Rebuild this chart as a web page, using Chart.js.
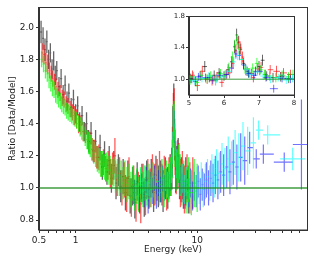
<!DOCTYPE html>
<html>
<head>
<meta charset="utf-8">
<script src="https://cdn.jsdelivr.net/npm/chart.js@4"></script>
<style>
  body { margin: 0; background: #fff; }
  #wrap { position: relative; width: 314px; height: 262px; }
  #inset { position: absolute; left: 164px; top: 10px; }
</style>
</head>
<body>
<div id="wrap">
  <canvas id="myChart" width="314" height="262"></canvas>
  <canvas id="inset" width="134" height="100"></canvas>
</div>
<script>
// axis ticks
var xTicks = [0.5, 0.6, 0.7, 0.8, 0.9, 1, 2, 3, 4, 5, 6, 7, 8, 9, 10, 20, 30, 40, 50, 60, 70];
var xMajor = [0.5, 1, 10];
var xMajorLabels = ['0.5', '1', '10'];
var yTicks = [0.8, 1.0, 1.2, 1.4, 1.6, 1.8, 2.0];
var insetXTicks = [5, 6, 7, 8];
var insetYTicks = [1.0, 1.4, 1.8];

// model line
var unityE = [0.5, 80];
var unityR = [1, 1];

// black spectrum
var blackE = [0.52, 0.54, 0.56, 0.58, 0.60, 0.62, 0.64, 0.66, 0.68, 0.70,
  0.73, 0.76, 0.79, 0.82, 0.85, 0.88, 0.92, 0.96, 1.00, 1.04,
  1.08, 1.13, 1.18, 1.23, 1.28, 1.34, 1.40, 1.46, 1.52, 1.59,
  1.66, 1.73, 1.81, 1.89, 1.97, 2.06, 2.15, 2.25, 2.35, 2.46,
  2.57, 2.69, 2.81, 2.94, 3.07, 3.21, 3.36, 3.51, 3.67, 3.84,
  4.01, 4.19, 4.38, 4.58, 4.79, 5.01, 5.24, 5.48, 5.73, 5.99,
  6.20, 6.32, 6.42, 6.52, 6.65, 6.80, 6.98, 7.16, 7.40, 7.70,
  8.05, 8.45];
var blackR = [1.97, 1.93, 1.86, 1.91, 1.80, 1.84, 1.74, 1.79, 1.70, 1.73,
  1.63, 1.68, 1.58, 1.64, 1.54, 1.59, 1.50, 1.55, 1.46, 1.51,
  1.41, 1.45, 1.35, 1.40, 1.29, 1.34, 1.23, 1.29, 1.19, 1.25,
  1.13, 1.21, 1.10, 1.17, 1.06, 1.14, 1.03, 1.11, 1.01, 1.07,
  0.97, 1.06, 0.95, 1.01, 0.93, 1.04, 0.96, 1.03, 0.94, 1.05,
  0.99, 1.06, 0.97, 1.08, 1.01, 1.04, 0.98, 1.06, 1.00, 1.08,
  1.12, 1.38, 1.52, 1.30, 1.10, 1.13, 1.18, 1.07, 1.05, 1.01,
  1.04, 0.99];
var blackErr = [0.07, 0.07, 0.07, 0.07, 0.06, 0.06, 0.06, 0.06, 0.06, 0.06,
  0.06, 0.06, 0.06, 0.06, 0.06, 0.06, 0.06, 0.06, 0.06, 0.06,
  0.06, 0.06, 0.06, 0.07, 0.07, 0.07, 0.07, 0.07, 0.07, 0.08,
  0.08, 0.08, 0.08, 0.09, 0.09, 0.09, 0.10, 0.10, 0.10, 0.11,
  0.11, 0.11, 0.11, 0.12, 0.12, 0.12, 0.12, 0.12, 0.12, 0.12,
  0.12, 0.12, 0.12, 0.12, 0.13, 0.13, 0.13, 0.13, 0.13, 0.13,
  0.13, 0.13, 0.13, 0.13, 0.13, 0.13, 0.13, 0.14, 0.14, 0.14,
  0.15, 0.15];

// red spectrum
var redE = [0.53, 0.55, 0.57, 0.59, 0.61, 0.63, 0.65, 0.67, 0.69, 0.715,
  0.745, 0.775, 0.805, 0.835, 0.865, 0.90, 0.94, 0.98, 1.02, 1.06,
  1.105, 1.155, 1.205, 1.255, 1.31, 1.37, 1.43, 1.49, 1.555, 1.625,
  1.695, 1.77, 1.85, 1.93, 2.015, 2.105, 2.20, 2.30, 2.405, 2.515,
  2.63, 2.75, 2.875, 3.005, 3.14, 3.285, 3.435, 3.59, 3.755, 3.925,
  4.10, 4.285, 4.48, 4.685, 4.90, 5.125, 5.36, 5.605, 5.86, 6.10,
  6.26, 6.37, 6.47, 6.58, 6.72, 6.89, 7.07, 7.28, 7.55, 7.85,
  8.25, 8.70, 9.20];
var redR = [1.84, 1.83, 1.78, 1.77, 1.73, 1.71, 1.68, 1.66, 1.63, 1.61,
  1.59, 1.56, 1.55, 1.52, 1.51, 1.49, 1.47, 1.45, 1.43, 1.40,
  1.39, 1.35, 1.34, 1.30, 1.28, 1.24, 1.23, 1.19, 1.19, 1.15,
  1.16, 1.12, 1.14, 1.09, 1.12, 1.20, 1.05, 1.09, 1.00, 1.05,
  0.96, 1.07, 0.94, 1.02, 0.91, 0.98, 0.90, 1.03, 0.95, 1.06,
  1.00, 1.09, 1.02, 1.05, 1.10, 1.02, 1.07, 0.99, 1.06, 1.08,
  1.25, 1.45, 1.48, 1.22, 1.10, 1.16, 1.14, 1.03, 1.08, 0.99,
  1.06, 1.00, 1.03];
var redErr = [0.06, 0.06, 0.06, 0.06, 0.05, 0.05, 0.05, 0.05, 0.05, 0.05,
  0.05, 0.05, 0.05, 0.05, 0.05, 0.05, 0.05, 0.06, 0.06, 0.06,
  0.06, 0.06, 0.06, 0.06, 0.07, 0.07, 0.07, 0.07, 0.08, 0.08,
  0.08, 0.08, 0.09, 0.09, 0.10, 0.11, 0.10, 0.10, 0.11, 0.11,
  0.11, 0.12, 0.12, 0.12, 0.12, 0.12, 0.12, 0.12, 0.12, 0.12,
  0.12, 0.12, 0.13, 0.13, 0.13, 0.13, 0.13, 0.13, 0.13, 0.13,
  0.13, 0.14, 0.14, 0.14, 0.14, 0.14, 0.14, 0.15, 0.15, 0.15,
  0.15, 0.16, 0.16];

// green spectrum
var greenE = [0.525, 0.545, 0.565, 0.585, 0.605, 0.625, 0.645, 0.665, 0.685, 0.705,
  0.725, 0.75, 0.77, 0.795, 0.82, 0.845, 0.87, 0.90, 0.93, 0.96,
  0.99, 1.02, 1.055, 1.09, 1.125, 1.16, 1.20, 1.24, 1.28, 1.32,
  1.36, 1.41, 1.46, 1.51, 1.56, 1.61, 1.67, 1.73, 1.79, 1.85,
  1.92, 1.99, 2.06, 2.13, 2.21, 2.29, 2.37, 2.46, 2.55, 2.65,
  2.75, 2.85, 2.96, 3.07, 3.19, 3.31, 3.44, 3.58, 3.72, 3.87,
  4.02, 4.18, 4.35, 4.53, 4.72, 4.92, 5.13, 5.35, 5.58, 5.82,
  6.05, 6.23, 6.35, 6.45, 6.56, 6.70, 6.86, 7.03, 7.22, 7.45,
  7.75, 8.10, 8.50, 8.95, 9.45, 10.0];
var greenR = [1.80, 1.77, 1.73, 1.71, 1.67, 1.65, 1.62, 1.61, 1.58, 1.57,
  1.55, 1.54, 1.52, 1.51, 1.50, 1.48, 1.47, 1.46, 1.45, 1.44,
  1.43, 1.42, 1.40, 1.38, 1.36, 1.35, 1.32, 1.30, 1.28, 1.26,
  1.24, 1.22, 1.20, 1.18, 1.17, 1.15, 1.15, 1.13, 1.13, 1.11,
  1.11, 1.09, 1.10, 1.07, 1.08, 1.05, 1.07, 1.03, 1.06, 1.02,
  1.04, 0.99, 1.03, 0.97, 1.01, 0.96, 1.02, 0.99, 1.03, 1.00,
  1.04, 0.99, 1.05, 1.01, 1.04, 1.02, 1.06, 1.00, 1.05, 1.03,
  1.07, 1.18, 1.40, 1.42, 1.25, 1.10, 1.12, 1.15, 1.08, 1.02,
  1.04, 0.98, 1.05, 0.97, 1.03, 1.00];
var greenErr = [0.05, 0.05, 0.05, 0.05, 0.05, 0.05, 0.05, 0.05, 0.05, 0.05,
  0.05, 0.05, 0.05, 0.05, 0.05, 0.05, 0.05, 0.05, 0.05, 0.05,
  0.05, 0.05, 0.05, 0.06, 0.06, 0.06, 0.06, 0.06, 0.07, 0.07,
  0.07, 0.07, 0.07, 0.08, 0.08, 0.08, 0.08, 0.08, 0.09, 0.09,
  0.09, 0.09, 0.09, 0.10, 0.10, 0.10, 0.10, 0.10, 0.11, 0.11,
  0.11, 0.11, 0.11, 0.11, 0.11, 0.11, 0.11, 0.11, 0.11, 0.11,
  0.11, 0.11, 0.11, 0.11, 0.11, 0.11, 0.12, 0.12, 0.12, 0.12,
  0.12, 0.12, 0.12, 0.12, 0.12, 0.12, 0.12, 0.12, 0.13, 0.13,
  0.13, 0.14, 0.14, 0.14, 0.15, 0.15];

// blue spectrum
var blueE = [3.05, 3.2, 3.35, 3.5, 3.65, 3.8, 3.95, 4.1, 4.27, 4.44,
  4.62, 4.8, 5.0, 5.2, 5.4, 5.6, 5.82, 6.04, 6.22, 6.36,
  6.5, 6.66, 6.84, 7.04, 7.25, 7.48, 7.72, 7.98, 8.25, 8.54,
  8.84, 9.15, 9.48, 9.83, 10.2, 10.6, 11.0, 11.45, 11.9, 12.4,
  12.95, 13.5, 14.1, 14.8, 15.6, 16.5, 17.5, 18.6, 19.8, 21.2,
  22.8, 24.6, 27.0, 30.6, 35.0, 52.0, 72.0];
var blueR = [0.97, 1.03, 0.93, 1.01, 0.96, 1.05, 0.92, 1.02, 0.98, 1.06,
  0.95, 1.03, 0.99, 1.06, 1.00, 1.04, 1.02, 1.07, 1.16, 1.40,
  1.38, 1.20, 1.08, 1.12, 1.05, 1.00, 1.04, 0.96, 1.02, 0.97,
  1.03, 0.95, 1.01, 0.98, 1.04, 0.96, 1.02, 0.99, 1.05, 1.00,
  1.06, 1.03, 1.08, 1.05, 1.10, 1.08, 1.13, 1.10, 1.16, 1.13,
  1.19, 1.17, 1.25, 1.18, 1.21, 1.16, 1.27];
var blueErr = [0.08, 0.08, 0.08, 0.08, 0.08, 0.08, 0.08, 0.08, 0.08, 0.08,
  0.08, 0.08, 0.08, 0.08, 0.08, 0.08, 0.08, 0.09, 0.09, 0.10,
  0.10, 0.09, 0.09, 0.09, 0.09, 0.09, 0.09, 0.09, 0.09, 0.09,
  0.09, 0.09, 0.09, 0.10, 0.10, 0.10, 0.10, 0.10, 0.11, 0.11,
  0.11, 0.12, 0.12, 0.12, 0.13, 0.13, 0.13, 0.14, 0.14, 0.14,
  0.15, 0.15, 0.10, 0.06, 0.06, 0.06, 0.28];

// cyan spectrum
var cyanE = [3.12, 3.27, 3.42, 3.57, 3.72, 3.87, 4.02, 4.18, 4.35, 4.53,
  4.71, 4.9, 5.1, 5.3, 5.5, 5.71, 5.93, 6.13, 6.29, 6.43,
  6.58, 6.75, 6.94, 7.14, 7.36, 7.6, 7.85, 8.11, 8.39, 8.69,
  9.0, 9.32, 9.65, 10.0, 10.4, 10.8, 11.22, 11.68, 12.15, 12.68,
  13.22, 13.8, 14.45, 15.2, 16.0, 16.9, 18.0, 19.2, 20.5, 22.0,
  23.8, 26.0, 29.0, 32.0, 38.0, 61.0];
var cyanR = [1.01, 0.95, 1.04, 0.98, 1.06, 0.96, 1.03, 0.99, 1.07, 1.00,
  1.04, 0.97, 1.05, 1.01, 1.06, 1.02, 1.08, 1.12, 1.25, 1.42,
  1.30, 1.15, 1.10, 1.14, 1.04, 1.06, 0.99, 1.04, 0.97, 1.02,
  0.99, 1.05, 0.98, 1.03, 1.00, 1.06, 0.99, 1.04, 1.07, 1.03,
  1.09, 1.06, 1.12, 1.09, 1.15, 1.12, 1.18, 1.15, 1.22, 1.19,
  1.26, 1.23, 1.28, 1.36, 1.33, 1.18];
var cyanErr = [0.08, 0.08, 0.08, 0.08, 0.08, 0.08, 0.08, 0.08, 0.08, 0.08,
  0.08, 0.08, 0.08, 0.08, 0.08, 0.08, 0.08, 0.09, 0.10, 0.10,
  0.10, 0.09, 0.09, 0.09, 0.09, 0.09, 0.09, 0.09, 0.09, 0.09,
  0.09, 0.10, 0.10, 0.10, 0.10, 0.10, 0.11, 0.11, 0.11, 0.11,
  0.12, 0.12, 0.12, 0.13, 0.13, 0.13, 0.14, 0.14, 0.14, 0.15,
  0.15, 0.15, 0.16, 0.06, 0.06, 0.07];

// inset (Fe K region, finer bins)
var insetBlackE = [5.05, 5.18, 5.32, 5.45, 5.58, 5.72, 5.86, 6.0, 6.12, 6.22, 6.3, 6.36, 6.42, 6.48, 6.56, 6.66, 6.78, 6.9, 7.0, 7.1, 7.22, 7.4, 7.62, 7.85];
var insetBlackR = [1.01, 0.97, 1.04, 1.16, 1.02, 1.05, 1.08, 1.04, 1.12, 1.22, 1.41, 1.56, 1.47, 1.38, 1.20, 1.10, 1.07, 1.10, 1.16, 1.24, 1.04, 1.02, 1.03, 1.01];
var insetBlackErr = [0.06, 0.06, 0.06, 0.07, 0.06, 0.06, 0.06, 0.06, 0.07, 0.07, 0.08, 0.08, 0.08, 0.07, 0.07, 0.06, 0.06, 0.06, 0.07, 0.07, 0.06, 0.06, 0.06, 0.06];
var insetRedE = [5.1, 5.24, 5.38, 5.52, 5.66, 5.8, 5.94, 6.06, 6.16, 6.26, 6.34, 6.4, 6.46, 6.53, 6.62, 6.72, 6.84, 6.96, 7.06, 7.18, 7.32, 7.5, 7.7, 7.9];
var insetRedR = [1.05, 0.92, 1.10, 1.00, 0.98, 1.03, 0.96, 1.06, 1.08, 1.20, 1.36, 1.46, 1.40, 1.28, 1.12, 1.08, 1.02, 1.13, 1.15, 1.06, 1.12, 1.10, 1.08, 1.06];
var insetRedErr = [0.06, 0.07, 0.07, 0.06, 0.06, 0.06, 0.06, 0.06, 0.07, 0.07, 0.08, 0.08, 0.08, 0.07, 0.07, 0.06, 0.06, 0.07, 0.07, 0.06, 0.06, 0.07, 0.06, 0.06];
var insetGreenE = [5.03, 5.13, 5.23, 5.35, 5.48, 5.62, 5.76, 5.9, 6.03, 6.14, 6.24, 6.31, 6.37, 6.43, 6.5, 6.6, 6.7, 6.82, 6.94, 7.05, 7.16, 7.3, 7.48, 7.66, 7.84, 7.97];
var insetGreenR = [0.99, 1.03, 0.96, 1.05, 1.01, 1.04, 0.98, 1.07, 1.05, 1.15, 1.28, 1.43, 1.50, 1.38, 1.25, 1.13, 1.08, 1.14, 1.20, 1.12, 1.06, 1.04, 1.02, 1.05, 1.03, 1.06];
var insetGreenErr = [0.06, 0.06, 0.06, 0.06, 0.06, 0.06, 0.06, 0.06, 0.06, 0.06, 0.07, 0.07, 0.07, 0.07, 0.07, 0.06, 0.06, 0.06, 0.07, 0.06, 0.06, 0.06, 0.06, 0.06, 0.06, 0.06];
var insetBlueE = [5.08, 5.27, 5.47, 5.68, 5.88, 6.08, 6.22, 6.34, 6.44, 6.56, 6.7, 6.86, 7.02, 7.2, 7.42, 7.66, 7.9];
var insetBlueR = [1.00, 1.03, 1.02, 0.99, 1.05, 1.06, 1.14, 1.32, 1.30, 1.18, 1.07, 1.05, 1.10, 1.02, 0.88, 1.01, 1.00];
var insetBlueErr = [0.05, 0.05, 0.05, 0.05, 0.05, 0.05, 0.06, 0.06, 0.06, 0.06, 0.05, 0.05, 0.05, 0.05, 0.05, 0.05, 0.05];
var insetCyanE = [5.15, 5.37, 5.57, 5.78, 5.98, 6.16, 6.28, 6.39, 6.5, 6.63, 6.78, 6.95, 7.12, 7.33, 7.55, 7.78, 7.96];
var insetCyanR = [0.98, 1.01, 1.04, 1.00, 1.03, 1.10, 1.22, 1.30, 1.25, 1.12, 1.06, 1.09, 1.04, 1.00, 1.02, 0.99, 1.01];
var insetCyanErr = [0.05, 0.05, 0.05, 0.05, 0.05, 0.05, 0.06, 0.06, 0.06, 0.06, 0.05, 0.05, 0.05, 0.05, 0.05, 0.05, 0.05];

var font = { family: 'DejaVu Sans', size: 9 };
var smallFont = { family: 'DejaVu Sans', size: 7 };

// bin edges from neighbouring energies (geometric for log axis)
function points(es, rs, errs, log) {
  return es.map(function (e, i) {
    var prev = i > 0 ? es[i - 1] : (log ? e * e / es[i + 1] : 2 * e - es[i + 1]);
    var next = i < es.length - 1 ? es[i + 1] : (log ? e * e / es[i - 1] : 2 * e - es[i - 1]);
    return {
      x: e, y: rs[i], err: errs[i],
      lo: log ? Math.sqrt(prev * e) : (prev + e) / 2,
      hi: log ? Math.sqrt(e * next) : (e + next) / 2
    };
  });
}

// draws the crosses through the chart's own scales
var errorBars = {
  id: 'errorBars',
  afterDatasetDraw: function (chart, args) {
    var ds = chart.data.datasets[args.index];
    if (!ds.errorBars) return;
    var ctx = chart.ctx, a = chart.chartArea, x = chart.scales.x, y = chart.scales.y;
    ctx.save();
    ctx.beginPath();
    ctx.rect(a.left, a.top, a.right - a.left, a.bottom - a.top);
    ctx.clip();
    ctx.strokeStyle = ds.borderColor;
    ctx.lineWidth = ds.barWidth;
    ds.data.forEach(function (p) {
      var px = x.getPixelForValue(p.x);
      var py = y.getPixelForValue(p.y);
      ctx.beginPath();
      ctx.moveTo(px, y.getPixelForValue(p.y - p.err));
      ctx.lineTo(px, y.getPixelForValue(p.y + p.err));
      ctx.moveTo(x.getPixelForValue(p.lo), py);
      ctx.lineTo(x.getPixelForValue(p.hi), py);
      ctx.stroke();
    });
    ctx.restore();
  }
};

// white face and full box around the plot
var frame = {
  id: 'frame',
  beforeDraw: function (chart) {
    var a = chart.chartArea, ctx = chart.ctx;
    ctx.save();
    ctx.fillStyle = '#fff';
    ctx.fillRect(a.left, a.top, a.right - a.left, a.bottom - a.top);
    ctx.restore();
  },
  afterDraw: function (chart) {
    var a = chart.chartArea, ctx = chart.ctx;
    ctx.save();
    ctx.strokeStyle = '#333';
    ctx.lineWidth = 1;
    ctx.strokeRect(Math.round(a.left) - 0.5, Math.round(a.top) + 0.5,
      Math.round(a.right - a.left) + 1, Math.round(a.bottom - a.top) - 0.5);
    ctx.restore();
  }
};

function series(es, rs, errs, color, log, w) {
  return { type: 'scatter', data: points(es, rs, errs, log), borderColor: color,
    backgroundColor: color, pointRadius: 0, showLine: false, errorBars: true, barWidth: w };
}

var colors = {
  black: 'rgba(0, 0, 0, 0.6)',
  red: 'rgba(255, 0, 0, 0.65)',
  green: 'rgba(0, 255, 0, 0.7)',
  blue: 'rgba(0, 0, 255, 0.55)',
  cyan: 'rgba(0, 255, 255, 0.6)'
};

// first dataset is drawn last (on top)
var ctx = document.getElementById('myChart').getContext('2d');
var myChart = new Chart(ctx, {
  data: {
    datasets: [
      { type: 'line', data: unityE.map(function (e, i) { return { x: e, y: unityR[i] }; }),
        borderColor: 'rgba(30, 140, 30, 0.85)', borderWidth: 1.5, pointRadius: 0 },
      series(greenE, greenR, greenErr, colors.green, true, 1.3),
      series(cyanE, cyanR, cyanErr, colors.cyan, true, 1.2),
      series(blueE, blueR, blueErr, colors.blue, true, 1.2),
      series(redE, redR, redErr, colors.red, true, 1.3),
      series(blackE, blackR, blackErr, colors.black, true, 1.3)
    ]
  },
  options: {
    responsive: false,
    animation: false,
    layout: { padding: { top: 5, right: 7, left: 0, bottom: 0 } },
    plugins: { legend: { display: false }, tooltip: { enabled: false } },
    scales: {
      x: {
        type: 'logarithmic', min: 0.5, max: 80,
        afterBuildTicks: function (s) { s.ticks = xTicks.map(function (v) { return { value: v }; }); },
        afterFit: function (s) { s.height = 32; },
        ticks: {
          autoSkip: false, maxRotation: 0, font: font, color: '#222', padding: 2,
          callback: function (v) { var k = xMajor.indexOf(v); return k >= 0 ? xMajorLabels[k] : ''; }
        },
        grid: { drawOnChartArea: false, tickLength: 3, color: '#333' },
        border: { color: '#333' },
        title: { display: true, text: 'Energy (keV)', font: font, color: '#222', padding: { top: 0, bottom: 7 } }
      },
      y: {
        min: 0.738, max: 2.123,
        afterBuildTicks: function (s) { s.ticks = yTicks.map(function (v) { return { value: v }; }); },
        afterFit: function (s) { s.width = 39; },
        ticks: { font: font, color: '#222', padding: 2, callback: function (v) { return v.toFixed(1); } },
        grid: { drawOnChartArea: false, tickLength: 3, color: '#333' },
        border: { color: '#333' },
        title: { display: true, text: 'Ratio [Data/Model]', font: font, color: '#222', padding: { top: 7, bottom: 0 } }
      }
    }
  },
  plugins: [frame, errorBars]
});

var ictx = document.getElementById('inset').getContext('2d');
var insetChart = new Chart(ictx, {
  data: {
    datasets: [
      { type: 'line', data: [{ x: 5, y: 1 }, { x: 8, y: 1 }],
        borderColor: 'rgba(30, 140, 30, 0.85)', borderWidth: 1, pointRadius: 0 },
      series(insetCyanE, insetCyanR, insetCyanErr, colors.cyan, false, 1),
      series(insetBlueE, insetBlueR, insetBlueErr, colors.blue, false, 1),
      series(insetGreenE, insetGreenR, insetGreenErr, colors.green, false, 1),
      series(insetRedE, insetRedR, insetRedErr, colors.red, false, 1),
      series(insetBlackE, insetBlackR, insetBlackErr, colors.black, false, 1)
    ]
  },
  options: {
    responsive: false,
    animation: false,
    layout: { padding: { top: 6, right: 4, left: 0, bottom: 0 } },
    plugins: { legend: { display: false }, tooltip: { enabled: false } },
    scales: {
      x: {
        type: 'linear', min: 5, max: 8,
        afterBuildTicks: function (s) { s.ticks = insetXTicks.map(function (v) { return { value: v }; }); },
        afterFit: function (s) { s.height = 15; },
        ticks: { font: smallFont, color: '#222', padding: 1, maxRotation: 0 },
        grid: { drawOnChartArea: false, tickLength: 3, color: '#333' },
        border: { color: '#333' }
      },
      y: {
        min: 0.8, max: 1.8,
        afterBuildTicks: function (s) { s.ticks = insetYTicks.map(function (v) { return { value: v }; }); },
        afterFit: function (s) { s.width = 25; },
        ticks: { font: smallFont, color: '#222', padding: 1, callback: function (v) { return v.toFixed(1); } },
        grid: { drawOnChartArea: false, tickLength: 3, color: '#333' },
        border: { color: '#333' }
      }
    }
  },
  plugins: [frame, errorBars]
});
</script>
</body>
</html>
